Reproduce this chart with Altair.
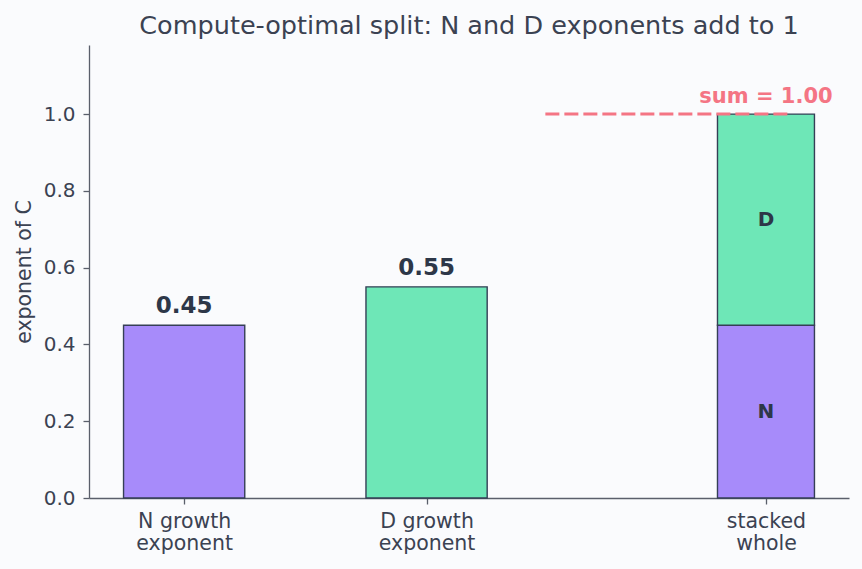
import altair as alt
import pandas as pd

# ---- data ----
categories = ["N growth\nexponent", "D growth\nexponent", "stacked\nwhole"]
n_exponent = 0.45
d_exponent = 0.55
sum_value = n_exponent + d_exponent
value_labels = ["0.45", "0.55"]
part_names = ["N", "D"]
y_ticks = [0.0, 0.2, 0.4, 0.6, 0.8, 1.0]

# ---- layout (not data) ----
x_positions = [0.0, 1.0, 2.4]
bar_widths = [0.5, 0.5, 0.4]
x_domain = [-0.3925, 2.7425]
y_domain = [0, 1.18]

PURPLE = "#a78bfa"
GREEN = "#6ee7b7"
EDGE = "#353f56"
TEXT = "#3b4252"
DARK = "#2d3748"
PINK = "#f47584"
BG = "#fafbfd"
AXIS = "#5a5f6b"
FONT = "DejaVu Sans"

segments = pd.DataFrame({
    "part": ["N", "D", "N", "D"],
    "xc": [x_positions[0], x_positions[1], x_positions[2], x_positions[2]],
    "w": [bar_widths[0], bar_widths[1], bar_widths[2], bar_widths[2]],
    "y0": [0.0, 0.0, 0.0, n_exponent],
    "y1": [n_exponent, d_exponent, n_exponent, sum_value],
})

value_df = pd.DataFrame({
    "xc": x_positions[:2],
    "y": [n_exponent, d_exponent],
    "label": value_labels,
})

inner_df = pd.DataFrame({
    "xc": [x_positions[2], x_positions[2]],
    "y": [n_exponent / 2, n_exponent + d_exponent / 2],
    "label": part_names,
})

sum_line_df = pd.DataFrame({"x0": [1.49], "x1": [2.5], "y": [sum_value]})
sum_text_df = pd.DataFrame({"xc": [x_positions[2]], "y": [sum_value], "label": [f"sum = {sum_value:.2f}"]})

# label expression for multi-line category names
parts = []
for xp, cat in zip(x_positions, categories):
    lines = ", ".join("'" + s + "'" for s in cat.split("\n"))
    parts.append(f"abs(datum.value - {xp}) < 0.001 ? [{lines}]")
label_expr = " : ".join(parts) + " : ''"

x_scale = alt.Scale(domain=x_domain, nice=False, zero=False)
y_scale = alt.Scale(domain=y_domain, nice=False, zero=True)

x_axis = alt.Axis(
    values=x_positions, labelExpr=label_expr, title=None, grid=False,
    labelFont=FONT, labelFontSize=20.5, labelColor=TEXT, labelLineHeight=22.5,
    labelPadding=7, tickSize=6, tickColor=AXIS, domainColor=AXIS,
    domainWidth=1.3, tickWidth=1.3, labelAngle=0, labelAlign="center",
)
y_axis = alt.Axis(
    values=y_ticks, format=".1f", title="exponent of C", grid=False,
    labelFont=FONT, labelFontSize=20, labelColor=TEXT, labelPadding=8,
    tickSize=6, tickColor=AXIS, domainColor=AXIS,
    domainWidth=1.3, tickWidth=1.3,
    titleFont=FONT, titleFontSize=20.5, titleFontWeight="normal", titleColor=TEXT,
    titlePadding=9,
)

bars = alt.Chart(segments).transform_calculate(
    x0="datum.xc - datum.w / 2", x1="datum.xc + datum.w / 2"
).mark_bar(stroke=EDGE, strokeWidth=1.4, opacity=1).encode(
    x=alt.X("x0:Q", scale=x_scale, axis=x_axis),
    x2="x1:Q",
    y=alt.Y("y0:Q", scale=y_scale, axis=y_axis),
    y2="y1:Q",
    color=alt.Color("part:N", scale=alt.Scale(domain=part_names, range=[PURPLE, GREEN]), legend=None),
)

values = alt.Chart(value_df).mark_text(
    font=FONT, fontSize=23, fontWeight="bold", color=DARK, baseline="alphabetic", dy=-12
).encode(x=alt.X("xc:Q", scale=x_scale), y=alt.Y("y:Q", scale=y_scale), text="label:N")

inner = alt.Chart(inner_df).mark_text(
    font=FONT, fontSize=20, fontWeight="bold", color=DARK, baseline="middle"
).encode(x=alt.X("xc:Q", scale=x_scale), y=alt.Y("y:Q", scale=y_scale), text="label:N")

sum_line = alt.Chart(sum_line_df).mark_rule(
    color=PINK, strokeWidth=3, strokeDash=[14, 5]
).encode(x=alt.X("x0:Q", scale=x_scale), x2="x1:Q", y=alt.Y("y:Q", scale=y_scale))

sum_text = alt.Chart(sum_text_df).mark_text(
    font=FONT, fontSize=21, fontWeight="bold", color=PINK, baseline="alphabetic", dy=-11
).encode(x=alt.X("xc:Q", scale=x_scale), y=alt.Y("y:Q", scale=y_scale), text="label:N")

chart = alt.layer(bars, values, inner, sum_line, sum_text).properties(
    width=760, height=453,
    title=alt.TitleParams(
        "Compute-optimal split: N and D exponents add to 1",
        font=FONT, fontSize=25.5, fontWeight="normal", color=TEXT, anchor="middle", offset=6,
    ),
    background=BG,
    padding={"left": 89, "top": 45, "right": 13, "bottom": 71},
    autosize=alt.AutoSizeParams(type="none"),
).configure_view(stroke=None)

chart.save("out.html", embed_options={"renderer": "svg", "actions": False})
